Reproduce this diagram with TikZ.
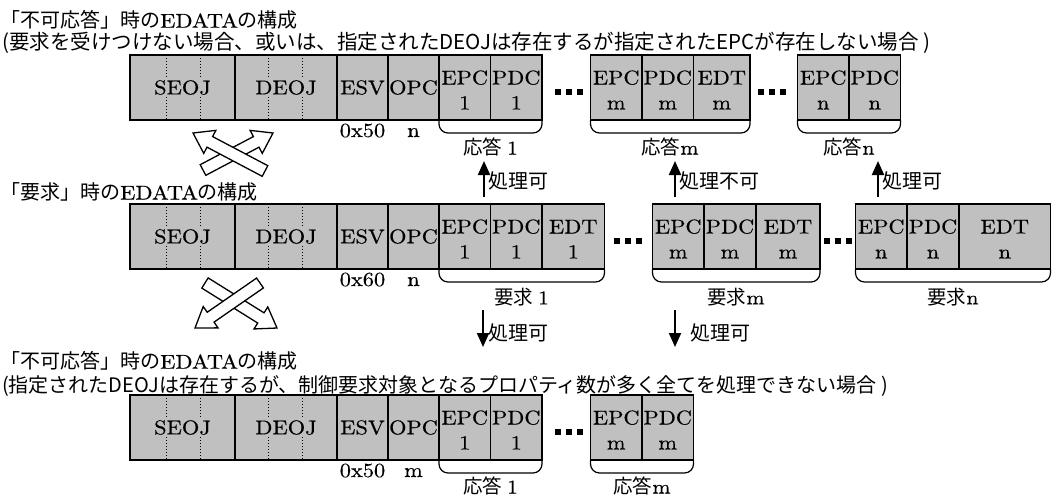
\documentclass[tikz,border=0pt]{standalone}
\usepackage{fontspec}
\setmainfont{lmroman10-regular.otf}[FakeStretch=1.12, FakeBold=0.4]
\newfontfamily\jp{Noto Sans CJK JP}
\usetikzlibrary{arrows.meta,calc}
\definecolor{cellgray}{RGB}{192,192,192}
\newcommand\twoline[2]{\raisebox{-4.5pt}[\height][\depth]{\begin{tabular}{@{}c@{}}#1\\#2\end{tabular}}}
\newcommand\brk[2]{\draw[bracket] (#1.south west) -- ([yshift=-13pt]#1.south west) -- ([yshift=-13pt]#2.south east) -- (#2.south east);}
\newcommand\threedots[2]{\foreach \i in {0,1,2}{\fill ({#1+\i*11},{#2-3}) rectangle ++(6,6);}}
\newcommand\hollow[3]{%
  \coordinate (#3h) at ($(#2)!19pt!(#1)$);
  \filldraw[hol] ($(#1)!6pt!90:(#2)$) -- ($(#3h)!6pt!90:(#2)$) -- ($(#3h)!13pt!90:(#2)$) -- (#2)
    -- ($(#3h)!13pt!-90:(#2)$) -- ($(#3h)!6pt!-90:(#2)$) -- ($(#1)!6pt!-90:(#2)$) -- cycle;}
\tikzset{
  cell/.style={draw=black, line width=1.4pt, fill=cellgray, minimum height=65pt, inner sep=0pt,
    outer sep=0pt, anchor=north west, font=\fontsize{20}{25}\selectfont},
  celltext/.style={fill=cellgray, inner sep=2.5pt, font=\fontsize{20}{25}\selectfont},
  dotline/.style={line width=1pt, dash pattern=on 1.3pt off 1.7pt},
  bracket/.style={line width=1.2pt, rounded corners=9pt},
  lab/.style={inner sep=0pt, font=\fontsize{19.5}{23}\selectfont},
  val/.style={inner sep=0pt, anchor=base, font=\fontsize{20}{23}\selectfont},
  title/.style={inner sep=0pt, anchor=west, font=\fontsize{20}{24}\selectfont},
  note/.style={inner sep=0pt, anchor=west, font=\jp\fontsize{20}{24}\selectfont},
  thin arrow/.style={line width=2pt, -{Triangle[width=12pt,length=14pt]}},
  hol/.style={fill=white, draw=black, line width=1.3pt, line join=miter}
}
\begin{document}
\begin{tikzpicture}[x=1pt, y=-1pt]
\fill[white] (0,0) rectangle (1052,496);
\useasboundingbox (0,0) rectangle (1052,496);

% ---------------- Row 1 ----------------
\node[title] (t1) at (0,20) {{\jp 「不可応答」時の}EDATA{\jp の構成}};
\node[note, font=\jp\fontsize{20.5}{24}\selectfont] (n1) at (2,43) {(要求を受けつけない場合、或いは、指定されたDEOJは存在するが指定されたEPCが存在しない場合 )};

\node[cell, minimum width=105pt] (aseoj) at (130,55) {};
\node[cell, minimum width=102pt] (adeoj) at (235,55) {};
\draw[dotline] ([xshift=36.5pt]aseoj.north west) -- ([xshift=36.5pt]aseoj.south west);
\draw[dotline] ([xshift=70.5pt]aseoj.north west) -- ([xshift=70.5pt]aseoj.south west);
\draw[dotline] ([xshift=33.5pt]adeoj.north west) -- ([xshift=33.5pt]adeoj.south west);
\draw[dotline] ([xshift=67.5pt]adeoj.north west) -- ([xshift=67.5pt]adeoj.south west);
\node[celltext] (aseojt) at (aseoj.center) {SEOJ};
\node[celltext] (adeojt) at (adeoj.center) {DEOJ};
\node[cell, minimum width=51pt] (aesv) at (337,55) {ESV};
\node[cell, minimum width=51pt] (aopc) at (388,55) {OPC};
\node[cell, minimum width=51.5pt] (aepc1) at (439,55) {\twoline{EPC}{1}};
\node[cell, minimum width=51.5pt] (apdc1) at (490.5,55) {\twoline{PDC}{1}};
\threedots{555}{92.3}
\node[cell, minimum width=51.5pt] (aepcm) at (590.5,55) {\twoline{EPC}{m}};
\node[cell, minimum width=51.5pt] (apdcm) at (642,55) {\twoline{PDC}{m}};
\node[cell, minimum width=56.5pt] (aedtm) at (693.5,55) {\twoline{EDT}{m}};
\threedots{758}{92.3}
\node[cell, minimum width=51.5pt] (aepcn) at (797.5,55) {\twoline{EPC}{n}};
\node[cell, minimum width=51.5pt] (apdcn) at (849,55) {\twoline{PDC}{n}};

\node[val] (aesvv) at (362.5,137) {0x50};
\node[val] (aopcv) at (413.5,137) {n};
\brk{aepc1}{apdc1}
\brk{aepcm}{aedtm}
\brk{aepcn}{apdcn}
\node[lab] (ag1) at (490.5,147) {{\jp 応答}\hspace{5pt}1};
\node[lab] (agm) at (670,147) {{\jp 応答}m};
\node[lab] (agn) at (849,147) {{\jp 応答}n};

% crossing hollow arrows (upper)
\coordinate (x1bt) at (203,170); \coordinate (x1bp) at (273,133);
\coordinate (x1at) at (265,171); \coordinate (x1ap) at (193,133);
\hollow{x1bt}{x1bp}{x1b}
\hollow{x1at}{x1ap}{x1a}

% up arrows
\coordinate (u1s) at (484,197); \coordinate (u1e) at (484,161);
\coordinate (u2s) at (675,197); \coordinate (u2e) at (675,161);
\coordinate (u3s) at (878,197); \coordinate (u3e) at (878,161);
\draw[thin arrow] (u1s) -- (u1e);
\draw[thin arrow] (u2s) -- (u2e);
\draw[thin arrow] (u3s) -- (u3e);
\node[note] (u1l) at (488,181) {処理可};
\node[note] (u2l) at (679,181) {処理不可};
\node[note] (u3l) at (882,181) {処理可};

% ---------------- Row 2 ----------------
\node[title] (t2) at (0,192) {{\jp 「要求」時の}EDATA{\jp の構成}};

\node[cell, minimum width=105pt] (bseoj) at (130,204) {};
\node[cell, minimum width=102pt] (bdeoj) at (235,204) {};
\draw[dotline] ([xshift=36.5pt]bseoj.north west) -- ([xshift=36.5pt]bseoj.south west);
\draw[dotline] ([xshift=70.5pt]bseoj.north west) -- ([xshift=70.5pt]bseoj.south west);
\draw[dotline] ([xshift=33.5pt]bdeoj.north west) -- ([xshift=33.5pt]bdeoj.south west);
\draw[dotline] ([xshift=67.5pt]bdeoj.north west) -- ([xshift=67.5pt]bdeoj.south west);
\node[celltext] (bseojt) at (bseoj.center) {SEOJ};
\node[celltext] (bdeojt) at (bdeoj.center) {DEOJ};
\node[cell, minimum width=51pt] (besv) at (337,204) {ESV};
\node[cell, minimum width=51pt] (bopc) at (388,204) {OPC};
\node[cell, minimum width=51.5pt] (bepc1) at (439,204) {\twoline{EPC}{1}};
\node[cell, minimum width=51.5pt] (bpdc1) at (490.5,204) {\twoline{PDC}{1}};
\node[cell, minimum width=62.5pt] (bedt1) at (542,204) {\twoline{EDT}{1}};
\threedots{614}{241.3}
\node[cell, minimum width=51.5pt] (bepcm) at (652.5,204) {\twoline{EPC}{m}};
\node[cell, minimum width=52pt] (bpdcm) at (704,204) {\twoline{PDC}{m}};
\node[cell, minimum width=64pt] (bedtm) at (756,204) {\twoline{EDT}{m}};
\threedots{824}{241.3}
\node[cell, minimum width=51.5pt] (bepcn) at (855.5,204) {\twoline{EPC}{n}};
\node[cell, minimum width=52pt] (bpdcn) at (907,204) {\twoline{PDC}{n}};
\node[cell, minimum width=91.5pt] (bedtn) at (959,204) {\twoline{EDT}{n}};

\node[val] (besvv) at (362.5,286) {0x60};
\node[val] (bopcv) at (413.5,286) {n};
\brk{bepc1}{bedt1}
\brk{bepcm}{bedtm}
\brk{bepcn}{bedtn}
\node[lab] (bg1) at (521.5,297) {{\jp 要求}\hspace{5pt}1};
\node[lab] (bgm) at (736,297) {{\jp 要求}m};
\node[lab] (bgn) at (953,297) {{\jp 要求}n};

% crossing hollow arrows (lower)
\coordinate (x2dt) at (205,283); \coordinate (x2dp) at (277,328);
\coordinate (x2ct) at (260,283); \coordinate (x2cp) at (195,328);
\hollow{x2dt}{x2dp}{x2d}
\hollow{x2ct}{x2cp}{x2c}

% down arrows
\coordinate (d1s) at (483,310); \coordinate (d1e) at (483,347);
\coordinate (d2s) at (675,310); \coordinate (d2e) at (675,347);
\draw[thin arrow] (d1s) -- (d1e);
\draw[thin arrow] (d2s) -- (d2e);
\node[note] (d1l) at (488,333) {処理可};
\node[note] (d2l) at (690,333) {処理可};

% ---------------- Row 3 ----------------
\node[title] (t3) at (0,361) {{\jp 「不可応答」時の}EDATA{\jp の構成}};
\node[note] (n3) at (2,386) {(指定されたDEOJは存在するが、制御要求対象となるプロパティ数が多く全てを処理できない場合 )};

\node[cell, minimum width=105pt] (cseoj) at (130,395) {};
\node[cell, minimum width=102pt] (cdeoj) at (235,395) {};
\draw[dotline] ([xshift=36.5pt]cseoj.north west) -- ([xshift=36.5pt]cseoj.south west);
\draw[dotline] ([xshift=70.5pt]cseoj.north west) -- ([xshift=70.5pt]cseoj.south west);
\draw[dotline] ([xshift=33.5pt]cdeoj.north west) -- ([xshift=33.5pt]cdeoj.south west);
\draw[dotline] ([xshift=67.5pt]cdeoj.north west) -- ([xshift=67.5pt]cdeoj.south west);
\node[celltext] (cseojt) at (cseoj.center) {SEOJ};
\node[celltext] (cdeojt) at (cdeoj.center) {DEOJ};
\node[cell, minimum width=51pt] (cesv) at (337,395) {ESV};
\node[cell, minimum width=51pt] (copc) at (388,395) {OPC};
\node[cell, minimum width=51.5pt] (cepc1) at (439,395) {\twoline{EPC}{1}};
\node[cell, minimum width=51.5pt] (cpdc1) at (490.5,395) {\twoline{PDC}{1}};
\threedots{555}{432.3}
\node[cell, minimum width=51.5pt] (cepcm) at (590.5,395) {\twoline{EPC}{m}};
\node[cell, minimum width=51.5pt] (cpdcm) at (642,395) {\twoline{PDC}{m}};

\node[val] (cesvv) at (362.5,477) {0x50};
\node[val] (copcv) at (413.5,477) {m};
\brk{cepc1}{cpdc1}
\brk{cepcm}{cpdcm}
\node[lab] (cg1) at (490.5,486) {{\jp 応答}\hspace{5pt}1};
\node[lab] (cgm) at (642,486) {{\jp 応答}m};
\end{tikzpicture}
\end{document}
